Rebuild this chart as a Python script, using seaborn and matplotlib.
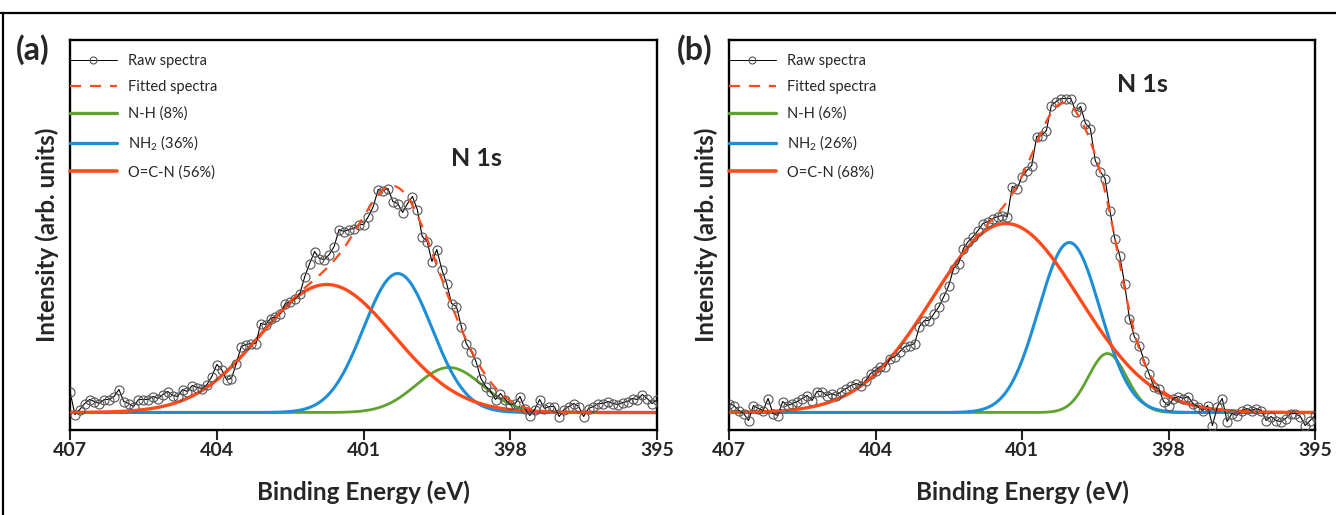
import numpy as np
import pandas as pd
import matplotlib
matplotlib.use("Agg")
import matplotlib.pyplot as plt
from matplotlib.lines import Line2D
import seaborn as sns

# ---------------- data ----------------
# Binding energy grid of the raw spectra (eV), 407 -> 395 in 0.1 eV steps
energy = np.round(np.arange(407.0, 394.95, -0.1), 2)

raw_a = [21, -2, 3, 9, 13, 11, 9, 13, 13, 16,
         23, 11, 9, 6, 13, 13, 13, 16, 14, 18,
         21, 17, 16, 23, 21, 27, 25, 24, 28, 36,
         48, 43, 33, 34, 49, 66, 68, 69, 69, 89,
         88, 94, 96, 99, 109, 111, 114, 119, 136, 149,
         161, 154, 153, 158, 166, 183, 181, 183, 184, 188,
         188, 196, 206, 223, 222, 224, 211, 209, 200, 209,
         216, 203, 176, 171, 151, 163, 143, 129, 109, 106,
         86, 69, 61, 51, 34, 26, 21, 13, 19, 13,
         8, 9, 16, 4, -3, 3, 13, 4, 6, 6,
         -4, 3, 6, 9, 6, -4, 4, 6, 9, 9,
         11, 9, 8, 10, 11, 14, 13, 18, 14, 9, 13]

raw_b = [9, 7, 2, -1, -8, 7, 4, 2, 14, -1,
         -3, 11, 7, 9, 11, 14, 17, 12, 21, 21,
         17, 19, 17, 21, 24, 27, 29, 27, 32, 39,
         42, 46, 46, 54, 56, 61, 66, 67, 69, 86,
         92, 92, 99, 106, 116, 127, 144, 149, 164, 171,
         176, 182, 189, 191, 194, 196, 197, 196, 226, 224,
         236, 242, 247, 276, 277, 282, 307, 311, 314, 314,
         314, 301, 306, 289, 284, 252, 241, 234, 202, 174,
         157, 129, 94, 76, 67, 52, 39, 26, 24, 11,
         7, 14, 16, 14, 16, 9, 6, 2, 7, -13,
         6, 14, -9, -1, -3, 2, 4, 2, 4, 2,
         -8, -4, -8, -9, -6, -1, -1, -4, -13, -8, -3]

# Fitted components: centre (eV), height, sigma (eV)
comp_names = ["N-H", "NH2", "O=C-N"]
centre_a = [399.25, 400.30, 401.75]
height_a = [45, 139, 128]
sigma_a = [0.68, 0.70, 1.36]
share_a = [8, 36, 56]

centre_b = [399.25, 400.03, 401.33]
height_b = [59, 170, 189]
sigma_b = [0.39, 0.63, 1.50]
share_b = [6, 26, 68]

x_ticks = [407, 404, 401, 398, 395]

# ---------------- style ----------------
sns.set_style("white")
plt.rcParams["font.family"] = ["Lato", "DejaVu Sans"]
plt.rcParams["mathtext.fontset"] = "custom"
plt.rcParams["mathtext.rm"] = "Lato"

c_green = "#5FA22F"
c_blue = "#1E8FD6"
c_orange = "#FF4A1C"

fig = plt.figure(figsize=(13.36, 5.15), dpi=100)
ax_a = fig.add_axes([70 / 1336, 1 - 430 / 515, 587 / 1336, 390 / 515])
ax_b = fig.add_axes([729 / 1336, 1 - 430 / 515, 586 / 1336, 390 / 515])

fine = np.linspace(407, 395, 1201)


def gauss(x, c, h, s):
    return h * np.exp(-((x - c) ** 2) / (2 * s ** 2))


def draw(ax, raw, centres, heights, sigmas, shares, n1s_xy):
    comps = [gauss(fine, c, h, s) for c, h, s in zip(centres, heights, sigmas)]
    fitted = np.sum(comps, axis=0)
    cols = [c_green, c_blue, c_orange]
    lws = [2.0, 2.2, 2.4]
    for comp, col, lw in zip(comps, cols, lws):
        sns.lineplot(x=fine, y=comp, ax=ax, color=col, lw=lw, sort=False, zorder=2)
    df = pd.DataFrame({"E": energy, "I": raw})
    sns.lineplot(data=df, x="E", y="I", ax=ax, color="black", lw=0.8, sort=False,
                 marker="o", markersize=6.5, markerfacecolor="none",
                 markeredgecolor="#555555", markeredgewidth=0.8, zorder=3)
    sns.lineplot(x=fine, y=fitted, ax=ax, color=c_orange, lw=1.6, sort=False,
                 linestyle=(0, (5, 4)), zorder=4)

    ax.set_xlim(407, 395)
    ax.set_ylim(-17.5, 372.5)
    ax.set_xticks(x_ticks)
    ax.set_xticklabels([str(t) for t in x_ticks], fontsize=14, fontweight="bold")
    ax.set_yticks([])
    ax.tick_params(axis="x", direction="out", length=7, width=1.5, pad=2, bottom=True)
    for sp in ax.spines.values():
        sp.set_color("black")
        sp.set_linewidth(1.7)
        sp.set_visible(True)
    ax.set_xlabel("Binding Energy (eV)", fontsize=17.5, fontweight="bold", labelpad=15)
    ax.set_ylabel("Intensity (arb. units)", fontsize=17.5, fontweight="bold", labelpad=8)

    handles = [
        Line2D([], [], color="black", lw=0.7, marker="o", markersize=5,
               markerfacecolor="none", markeredgecolor="#555555", markeredgewidth=0.8),
        Line2D([], [], color=c_orange, lw=1.6, linestyle=(0, (5, 4))),
        Line2D([], [], color=c_green, lw=2.4),
        Line2D([], [], color=c_blue, lw=2.4),
        Line2D([], [], color=c_orange, lw=2.6),
    ]
    labels = ["Raw spectra", "Fitted spectra",
              f"N-H ({shares[0]}%)", f"NH$_2$ ({shares[1]}%)", f"O=C-N ({shares[2]}%)"]
    ax.legend(handles, labels, loc="upper left",
              bbox_to_anchor=(-3 / 587, 1 - 11 / 390),
              borderaxespad=0, borderpad=0.2, frameon=False, fontsize=10.5,
              handlelength=3.2, handletextpad=0.75, labelspacing=0.85)
    ax.text(n1s_xy[0], n1s_xy[1], "N 1s", fontsize=18, fontweight="bold",
            ha="center", va="center", transform=ax.transAxes)


draw(ax_a, raw_a, centre_a, height_a, sigma_a, share_a,
     ((476 - 70) / 587, (430 - 158) / 390))
draw(ax_b, raw_b, centre_b, height_b, sigma_b, share_b,
     ((1142 - 729) / 586, (430 - 84) / 390))

fig.text(33 / 1336, 1 - 50 / 515, "(a)", fontsize=23, fontweight="bold",
         ha="center", va="center")
fig.text(695 / 1336, 1 - 50 / 515, "(b)", fontsize=23, fontweight="bold",
         ha="center", va="center")

# outer frame lines (top and left)
fig.add_artist(Line2D([0, 1], [1 - 13 / 515] * 2, color="black", lw=1.6,
                      transform=fig.transFigure))
fig.add_artist(Line2D([2.5 / 1336] * 2, [0, 1 - 13 / 515], color="black", lw=1.6,
                      transform=fig.transFigure))

fig.savefig("out.png", dpi=100)
